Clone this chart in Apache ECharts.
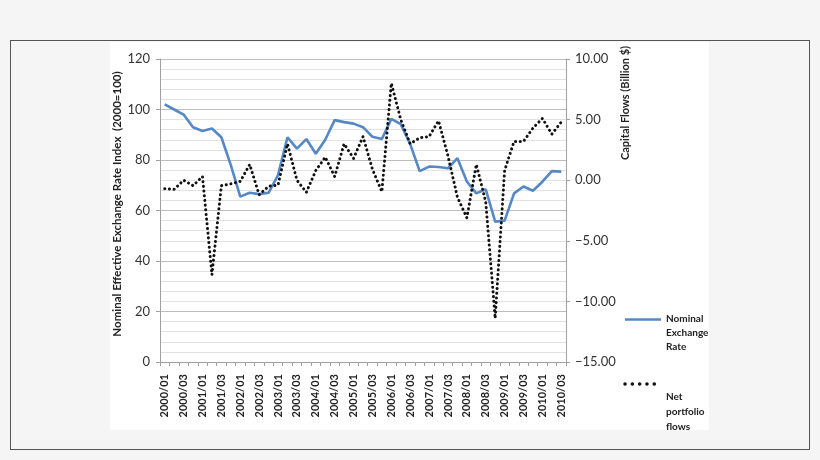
<!DOCTYPE html>
<html>
<head>
<meta charset="utf-8">
<script src="https://cdn.jsdelivr.net/npm/echarts@6/dist/echarts.min.js"></script>
<style>
    html, body { margin: 0; padding: 0; background: #f5f5f5; }
    #frame { position: absolute; left: 10px; top: 40px; width: 798px; height: 408px; border: 1.5px solid #555; background: #f5f5f5; }
    #paper { position: absolute; left: 110px; top: 42px; width: 599px; height: 388px; background: #fff; }
    #chart { position: absolute; left: 0; top: 0; width: 820px; height: 460px; }
</style>
</head>
<body>
<div id="frame"></div>
<div id="paper"></div>
<div id="chart"></div>
<script>
// quarters 2000/01 .. 2010/03
var quarters = [
    "2000/01", "2000/02", "2000/03", "2000/04",
    "2001/01", "2001/02", "2001/03", "2001/04",
    "2002/01", "2002/02", "2002/03", "2002/04",
    "2003/01", "2003/02", "2003/03", "2003/04",
    "2004/01", "2004/02", "2004/03", "2004/04",
    "2005/01", "2005/02", "2005/03", "2005/04",
    "2006/01", "2006/02", "2006/03", "2006/04",
    "2007/01", "2007/02", "2007/03", "2007/04",
    "2008/01", "2008/02", "2008/03", "2008/04",
    "2009/01", "2009/02", "2009/03", "2009/04",
    "2010/01", "2010/02", "2010/03"
];

// Nominal effective exchange rate index (2000=100), left axis
var exchangeRate = [
    102, 100, 98, 93, 91.5, 92.5, 89, 78,
    65.5, 67, 66.5, 67, 74, 89, 84.5, 88.3,
    82.5, 88, 95.8, 95, 94.4, 93, 89.2, 88.3,
    96.3, 94.2, 86.3, 75.6, 77.4, 77.2, 76.7, 80.7,
    71.5, 66.8, 68.4, 55.6, 56, 66.8, 69.5, 67.8,
    71.4, 75.6, 75.4
];

// Net portfolio flows (billion $), right axis
var portfolioFlows = [
    -0.7, -0.75, 0, -0.45, 0.3, -7.8, -0.45, -0.3,
    -0.1, 1.3, -1.2, -0.5, -0.4, 3.0, 0, -1.0,
    0.8, 1.9, 0.3, 3.0, 1.8, 3.6, 0.9, -0.95,
    8.0, 5.0, 3.0, 3.5, 3.6, 4.9, 2.0, -1.4,
    -3.1, 1.3, -1.8, -11.4, 0.8, 3.2, 3.2, 4.3,
    5.1, 3.8, 4.8
];

var font = "Lato, 'Open Sans', sans-serif";

var chart = echarts.init(document.getElementById("chart"));
var options = {
    animation: false,
    textStyle: { fontFamily: font },
    grid: {
        left: 160,
        right: 254,
        top: 59,
        bottom: 98
    },
    xAxis: {
        type: "category",
        data: quarters,
        boundaryGap: true,
        axisLine: { lineStyle: { color: "#a0a0a0" } },
        axisTick: { show: true, interval: 0, length: 4, lineStyle: { color: "#a0a0a0" } },
        axisLabel: {
            interval: 1,
            rotate: 90,
            margin: 12,
            fontSize: 11,
            fontWeight: "bold",
            color: "#222",
            fontFamily: font
        },
        splitLine: { show: false }
    },
    yAxis: [
        {
            type: "value",
            min: 0,
            max: 120,
            interval: 20,
            axisLine: { show: true, lineStyle: { color: "#a0a0a0" } },
            axisTick: { show: true, length: 4, lineStyle: { color: "#a0a0a0" } },
            axisLabel: { margin: 10, fontSize: 13, color: "#333", fontFamily: font },
            splitLine: { show: true, lineStyle: { color: "#bdbdbd", width: 1 } },
            minorTick: { show: false, splitNumber: 5 },
            minorSplitLine: { show: true, lineStyle: { color: "#e2e2e2", width: 1 } }
        },
        {
            type: "value",
            min: -15,
            max: 10,
            interval: 5,
            axisLine: { show: true, lineStyle: { color: "#a0a0a0" } },
            axisTick: { show: true, length: 4, lineStyle: { color: "#a0a0a0" } },
            axisLabel: {
                margin: 9,
                fontSize: 13,
                color: "#333",
                fontFamily: font,
                formatter: function (val) {
                    return val.toFixed(2).replace("-", "\u2212");
                }
            },
            splitLine: { show: false }
        }
    ],
    series: [
        {
            name: "Nominal Exchange Rate",
            type: "line",
            yAxisIndex: 0,
            data: exchangeRate,
            showSymbol: false,
            symbol: "none",
            lineStyle: { color: "#5588c4", width: 2.6 }
        },
        {
            name: "Net portfolio flows",
            type: "line",
            yAxisIndex: 1,
            data: portfolioFlows,
            showSymbol: false,
            symbol: "none",
            lineStyle: { color: "#111", width: 3, type: [0.1, 4.6], cap: "round" }
        }
    ],
    graphic: [
        // axis titles
        {
            type: "text",
            x: 117,
            y: 204,
            rotation: Math.PI / 2,
            style: {
                text: "Nominal Effective Exchange Rate Index  (2000=100)",
                font: "bold 11.5px " + font,
                fill: "#222",
                align: "center",
                verticalAlign: "middle"
            }
        },
        {
            type: "text",
            x: 625,
            y: 103,
            rotation: Math.PI / 2,
            style: {
                text: "Capital Flows (Billion $)",
                font: "bold 11px " + font,
                fill: "#222",
                align: "center",
                verticalAlign: "middle"
            }
        },
        // legend
        {
            type: "line",
            shape: { x1: 625, y1: 319.5, x2: 661, y2: 319.5 },
            style: { stroke: "#5588c4", lineWidth: 2.6 }
        },
        {
            type: "text",
            x: 666,
            y: 312,
            style: {
                text: "Nominal\nExchange\nRate",
                font: "bold 10px " + font,
                fill: "#222",
                lineHeight: 14
            }
        },
        {
            type: "line",
            shape: { x1: 625, y1: 384, x2: 661, y2: 384 },
            style: { stroke: "#111", lineWidth: 3.5, lineDash: [0.1, 7.2], lineCap: "round" }
        },
        {
            type: "text",
            x: 666,
            y: 389,
            style: {
                text: "Net\nportfolio\nflows",
                font: "bold 10px " + font,
                fill: "#222",
                lineHeight: 15
            }
        }
    ]
};
chart.setOption(options, true);
</script>
</body>
</html>
